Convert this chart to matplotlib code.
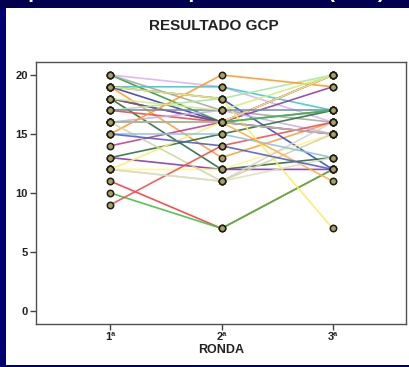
import matplotlib.pyplot as plt
from matplotlib.patches import Rectangle

rondas = [1, 2, 3]
ronda_labels = ['1ª', '2ª', '3ª']

# one row per participant: score in ronda 1, 2, 3
ronda1 = [20, 20, 20, 19, 19, 19, 19, 18, 18, 18, 17, 17, 13, 16, 15, 14, 13,
          12, 12, 12, 16, 11, 10, 9, 19, 17, 15, 16, 12, 15, 16, 16, 18]
ronda2 = [19, 16, 17, 13, 16, 19, 18, 16, 16, 12, 18, 16, 12, 17, 20, 16, 15,
          16, 12, 11, 11, 7, 7, 14, 18, 17, 15, 16, 11, 14, 16, 16, 17]
ronda3 = [16, 17, 16, 16, 20, 17, 12, 15, 19, 13, 20, 15, 12, 15, 19, 20, 17,
          20, 15, 16, 15, 12, 12, 16, 7, 17, 13, 11, 13, 12, 17, 15, 20]
colores = ['#d8b4f0', '#2e9e3e', '#a8a8a8', '#ffa030', '#4040b0', '#40c8c8',
           '#3050c0', '#2a7a6a', '#9040a0', '#2a6e3a', '#a8e8a0', '#f04848',
           '#8a3aa8', '#c8b0e8', '#ff9a28', '#c04090', '#307040', '#f8f070',
           '#fff590', '#d4d4d4', '#d4d4a4', '#f04040', '#40c040', '#f05050',
           '#f8f060', '#6a8ab0', '#90c0e8', '#ffb040', '#e0e0b8', '#5060c8',
           '#50b050', '#b8b8b8', '#d0f080']

fig = plt.figure(figsize=(4.1, 3.67), dpi=100, facecolor='#000070')
fig.patches.append(Rectangle((0, 359 / 367), 1, 8 / 367,
                             transform=fig.transFigure, facecolor='#00004e',
                             edgecolor='none', zorder=-6))
fig.patches.append(Rectangle((6 / 410, 2 / 367), 1, 357 / 367,
                             transform=fig.transFigure, facecolor='white',
                             edgecolor='none', zorder=-5))
fig.text(385 / 410, 1 + 7 / 367, 'Grupo Experimental: Tempo al Técnico (NCT)',
         color='white', fontsize=15, fontweight='bold', ha='right', va='center',
         family='Liberation Sans')

ax = fig.add_axes([36 / 410, 43 / 367, 370 / 410, 262 / 367])
ax.set_facecolor('white')

for a, b, c, col in zip(ronda1, ronda2, ronda3, colores):
    ax.plot(rondas, [a, b, c], color=col, lw=1.2, alpha=0.9, zorder=2)
for a, b, c in zip(ronda1, ronda2, ronda3):
    ax.plot(rondas, [a, b, c], ls='none', marker='o', ms=4.6, mfc='#a8a068',
            mec='#1e1e12', mew=1.1, zorder=3)

ax.set_xlim(0.33, 3.66)
ax.set_ylim(-1.1, 21.1)
ax.set_xticks(rondas)
ax.set_xticklabels(ronda_labels)
ax.set_yticks([0, 5, 10, 15, 20])
for s in ax.spines.values():
    s.set_color('#505050')
    s.set_linewidth(1.0)
ax.tick_params(length=4, width=1, color='#404040', labelsize=8, pad=2,
               labelcolor='#222222')
for t in ax.get_xticklabels() + ax.get_yticklabels():
    t.set_fontweight('bold')
    t.set_family('Liberation Sans')

ax.set_xlabel('RONDA', fontsize=9, fontweight='bold', family='Liberation Sans',
              labelpad=1, color='#222222')
fig.text(214 / 410, 1 - 26 / 367, 'RESULTADO GCP', fontsize=11, fontweight='bold',
         family='Liberation Sans', ha='center', va='center', color='#222222')

fig.savefig('out.png', dpi=100, facecolor=fig.get_facecolor())
